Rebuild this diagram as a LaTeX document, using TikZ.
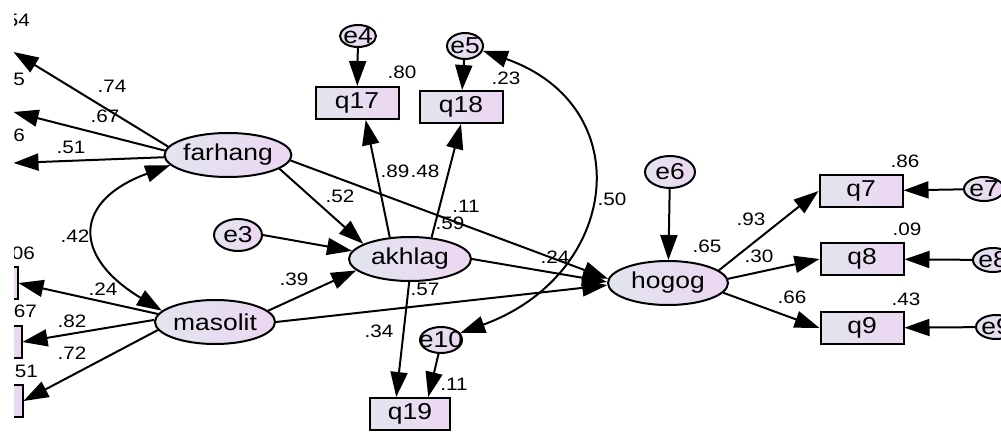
\documentclass[tikz,border=0pt]{standalone}
\usepackage{fontspec}
\setmainfont{Liberation Sans}[FakeStretch=1.15]
\usetikzlibrary{shapes.geometric,arrows.meta}
\definecolor{shadeL}{RGB}{226,229,238}
\definecolor{shadeR}{RGB}{236,214,242}
\begin{document}
\begin{tikzpicture}[x=1pt, y=-1pt,
  font=\fontsize{23}{23}\selectfont,
  latent/.style={ellipse, draw, line width=2pt, left color=shadeL, right color=shadeR, minimum width=120pt, minimum height=44pt, inner sep=0pt},
  err/.style={ellipse, draw, line width=2pt, left color=shadeL, right color=shadeR, inner sep=0pt, label={center:#1}},
  obs/.style={rectangle, draw, line width=2pt, left color=shadeL, right color=shadeR, minimum width=83pt, minimum height=32pt, inner sep=0pt},
  reg/.style={line width=2pt, -{Triangle[length=25pt,width=17pt]}},
  cov/.style={line width=2pt, {Triangle[length=25pt,width=17pt]}-{Triangle[length=25pt,width=17pt]}},
  coef/.style={font=\fontsize{18}{18}\selectfont, inner sep=0pt}]
\useasboundingbox (0,0) rectangle (1001,431);
\clip (14,0) rectangle (1001,431);
% latent variables
\node[latent] (farhang) at (228,155) {farhang};
\node[latent] (masolit) at (215,322) {masolit};
\node[latent, minimum width=122pt] (akhlag) at (410,259) {akhlag};
\node[latent] (hogog) at (668,283) {hogog};
% errors
\node[err=e3, minimum width=48pt, minimum height=32pt] (e3) at (238,235) {};
\node[err=e6, minimum width=50pt, minimum height=32pt] (e6) at (670,172) {};
\node[err=e4, minimum width=36pt, minimum height=22pt] (e4) at (358,36) {};
\node[err=e5, minimum width=36pt, minimum height=26pt] (e5) at (465,46) {};
\node[err=e10, minimum width=42pt, minimum height=26pt] (e10) at (441,340) {};
\node[err=e7, minimum width=40pt, minimum height=24pt] (e7) at (984,189) {};
\node[err=e8, minimum width=40pt, minimum height=24pt] (e8) at (993,260) {};
\node[err=e9, minimum width=40pt, minimum height=24pt] (e9) at (996,327) {};
% observed
\node[obs] (q17) at (357,103) {q17};
\node[obs] (q18) at (461,107) {q18};
\node[obs, minimum width=80pt] (q19) at (410,414) {q19};
\node[obs] (q7) at (861,191) {q7};
\node[obs] (q8) at (862,259) {q8};
\node[obs] (q9) at (862,328) {q9};
\node[obs] (f1) at (-29,52) {};
\node[obs] (f2) at (-29,112) {};
\node[obs] (f3) at (-29,163) {};
\node[obs] (m1) at (-24,283) {};
\node[obs] (m2) at (-20,342) {};
\node[obs] (m3) at (-19,401) {};
% paths
\draw[reg] (farhang.172) -- (f1.east);
\draw[reg] (farhang.176) -- (f2.east);
\draw[reg] (farhang.182) -- (f3.east);
\draw[reg] (masolit.172) -- (m1.east);
\draw[reg] (masolit.178) -- (m2.east);
\draw[reg] (masolit.188) -- (m3.east);
\draw[reg] (farhang.-15) -- (akhlag.162);
\draw[reg] (farhang.-5) -- (hogog.176);
\draw[reg] (e3.east) -- (akhlag.172);
\draw[reg] (masolit.12) -- (akhlag.192);
\draw[reg] (masolit.east) -- (hogog.182);
\draw[reg] (akhlag.east) -- (hogog.179);
\draw[reg] (akhlag.133) -- (q17.-63);
\draw[reg] (akhlag.45) -- (q18.south);
\draw[reg] (akhlag.-92) -- (q19.129);
\draw[reg] (e10.-100) -- (q19.43);
\draw[reg] (e4) -- (q17);
\draw[reg] (e5) -- (q18);
\draw[reg] (e6) -- (hogog);
\draw[reg] (hogog.14) -- (q7.west);
\draw[reg] (hogog.4) -- (q8.west);
\draw[reg] (hogog.-10) -- (q9.west);
\draw[reg] (e7) -- (q7);
\draw[reg] (e8) -- (q8);
\draw[reg] (e9) -- (q9);
% covariances
\draw[cov] (farhang.190) .. controls (75,200) and (70,255) .. (masolit.168);
\draw[cov] (e5.-15) .. controls (640,106) and (620,275) .. (e10.20);
% estimates
\node[coef, anchor=east] (r1) at (30,20) {.54};
\node[coef, anchor=east] (r2) at (25,79) {5};
\node[coef, anchor=east] (r3) at (25,135) {6};
\node[coef, anchor=east] (r4) at (35,253) {.06};
\node[coef, anchor=east] (r5) at (37,311) {.67};
\node[coef, anchor=east] (r6) at (38,371) {.51};
\node[coef] (w1) at (112,86) {.74};
\node[coef] (w2) at (105,116) {.67};
\node[coef] (w3) at (71,147) {.51};
\node[coef] (w4) at (103,289) {.24};
\node[coef] (w5) at (72,321) {.82};
\node[coef] (w6) at (72,353) {.72};
\node[coef] (c1) at (75,236) {.42};
\node[coef] (c2) at (612,199) {.50};
\node[coef] (b1) at (340,196) {.52};
\node[coef] (b2) at (466,206) {.11};
\node[coef] (b3) at (294,279) {.39};
\node[coef] (b4) at (555,257) {.24};
\node[coef] (b5) at (425,289) {.57};
\node[coef] (r7) at (450,223) {.59};
\node[coef] (r8) at (707,246) {.65};
\node[coef] (w7) at (395,171) {.89};
\node[coef] (w8) at (425,171) {.48};
\node[coef] (w9) at (379,331) {.34};
\node[coef] (w10) at (751,219) {.93};
\node[coef] (w11) at (759,256) {.30};
\node[coef] (w12) at (792,297) {.66};
\node[coef] (r9) at (402,72) {.80};
\node[coef] (r10) at (506,78) {.23};
\node[coef] (r11) at (454,384) {.11};
\node[coef] (r12) at (905,161) {.86};
\node[coef] (r13) at (907,229) {.09};
\node[coef] (r14) at (906,299) {.43};
\end{tikzpicture}
\end{document}
